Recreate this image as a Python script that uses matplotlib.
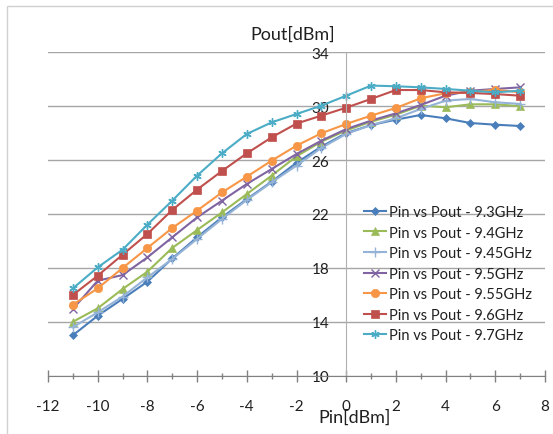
import matplotlib
matplotlib.use("Agg")
import matplotlib.pyplot as plt
from matplotlib.patches import Rectangle

plt.rcParams['font.family'] = ['Lato', 'DejaVu Sans']
plt.rcParams['axes.unicode_minus'] = False

pin = [-11, -10, -9, -8, -7, -6, -5, -4, -3, -2, -1, 0, 1, 2, 3, 4, 5, 6, 7]

pout_93 = [13.0, 14.45, 15.7, 16.98, 18.7, 20.27, 21.75, 23.1, 24.4, 25.8, 27.0, 28.0,
           28.6, 29.0, 29.35, 29.1, 28.75, 28.63, 28.53]
pout_94 = [14.0, 15.0, 16.43, 17.72, 19.48, 20.81, 22.12, 23.48, 24.85, 26.28, 27.37, 28.2,
           28.85, 29.37, 30.04, 29.92, 30.14, 30.14, 30.0]
pout_945 = [13.6, 14.7, 15.87, 17.3, 18.66, 20.15, 21.63, 23.04, 24.35, 25.59, 26.9, 27.94,
            28.6, 29.1, 29.8, 30.41, 30.54, 30.29, 30.17]
pout_95 = [14.95, 17.05, 17.47, 18.78, 20.27, 21.75, 22.99, 24.23, 25.34, 26.45, 27.44, 28.3,
           28.93, 29.47, 30.09, 30.78, 31.15, 31.28, 31.4]
pout_955 = [15.27, 16.48, 17.99, 19.48, 20.96, 22.25, 23.6, 24.77, 25.96, 27.07, 27.99, 28.68,
            29.3, 29.87, 30.59, 30.96, 31.03, 31.23, 31.03]
pout_96 = [15.99, 17.42, 18.98, 20.52, 22.3, 23.81, 25.19, 26.5, 27.69, 28.71, 29.3, 29.89,
           30.54, 31.2, 31.2, 31.03, 30.98, 30.9, 30.78]
pout_97 = [16.48, 18.04, 19.35, 21.21, 22.99, 24.85, 26.5, 27.94, 28.8, 29.42, 30.04, 30.78,
           31.53, 31.48, 31.4, 31.28, 31.15, 31.03, 31.15]

labels = ["Pin vs Pout - 9.3GHz", "Pin vs Pout - 9.4GHz", "Pin vs Pout - 9.45GHz",
          "Pin vs Pout - 9.5GHz", "Pin vs Pout - 9.55GHz", "Pin vs Pout - 9.6GHz",
          "Pin vs Pout - 9.7GHz"]
series = [pout_93, pout_94, pout_945, pout_95, pout_955, pout_96, pout_97]
colors = ["#4A7EBB", "#9BBB59", "#95B3D7", "#8064A2", "#F79646", "#C0504D", "#4BACC6"]
markers = ["D", "^", "+", "x", "o", "s", (6, 2, 0)]
msizes = [4, 6, 7, 6, 6, 6, 6]

fig = plt.figure(figsize=(5.53, 4.35), dpi=100)
ax = fig.add_axes([48/553, 1-376.7/435, (545-48)/553, (376.7-53.3)/435])

# chart area frame
fig.patches.append(Rectangle((7/553, -0.1), 1.1, 1.1-7/435, transform=fig.transFigure,
                             fill=False, edgecolor="#D0D0D0", linewidth=1.0))

for y, lab, c, m, ms in zip(series, labels, colors, markers, msizes):
    ax.plot(pin, y, color=c, linewidth=1.5, marker=m, markersize=ms,
            markeredgewidth=1.0 if m in ("+", "x") or isinstance(m, tuple) else 0.5,
            markeredgecolor=c, label=lab)

ax.set_xlim(-12, 8)
ax.set_ylim(10, 34)
ax.set_xticks(range(-12, 9, 2))
ax.set_xticks(range(-12, 9, 1), minor=True)
ax.set_yticks(range(10, 35, 4))

ax.spines['left'].set_position(('data', 0))
ax.spines['left'].set_color("#B0B0B0")
ax.spines['right'].set_visible(False)
ax.spines['top'].set_visible(False)
ax.spines['bottom'].set_color("#808080")

ax.grid(axis='y', color="#A6A6A6", linewidth=1.0)
ax.set_axisbelow(True)

ax.tick_params(axis='x', which='major', direction='inout', length=9, width=1,
               color="#808080", pad=12, labelsize=11, labelcolor="#202020")
ax.tick_params(axis='x', which='minor', direction='inout', length=5, width=1, color="#808080")
ax.tick_params(axis='y', length=0, pad=12, labelsize=11, labelcolor="#202020")

fig.text(292.8/553, 1-35/435, "Pout[dBm]", ha='center', va='center', fontsize=13, color="#202020")
fig.text(354.5/553, 1-418/435, "Pin[dBm]", ha='center', va='center', fontsize=13, color="#202020")

ax.legend(loc='upper left', bbox_to_anchor=(364/553, 1-206/435), bbox_transform=fig.transFigure,
          frameon=False, fontsize=10.5, handlelength=1.5, handletextpad=0.2,
          labelspacing=0.45, borderpad=0, borderaxespad=0, labelcolor="#202020")

fig.savefig("out.png", dpi=100)
